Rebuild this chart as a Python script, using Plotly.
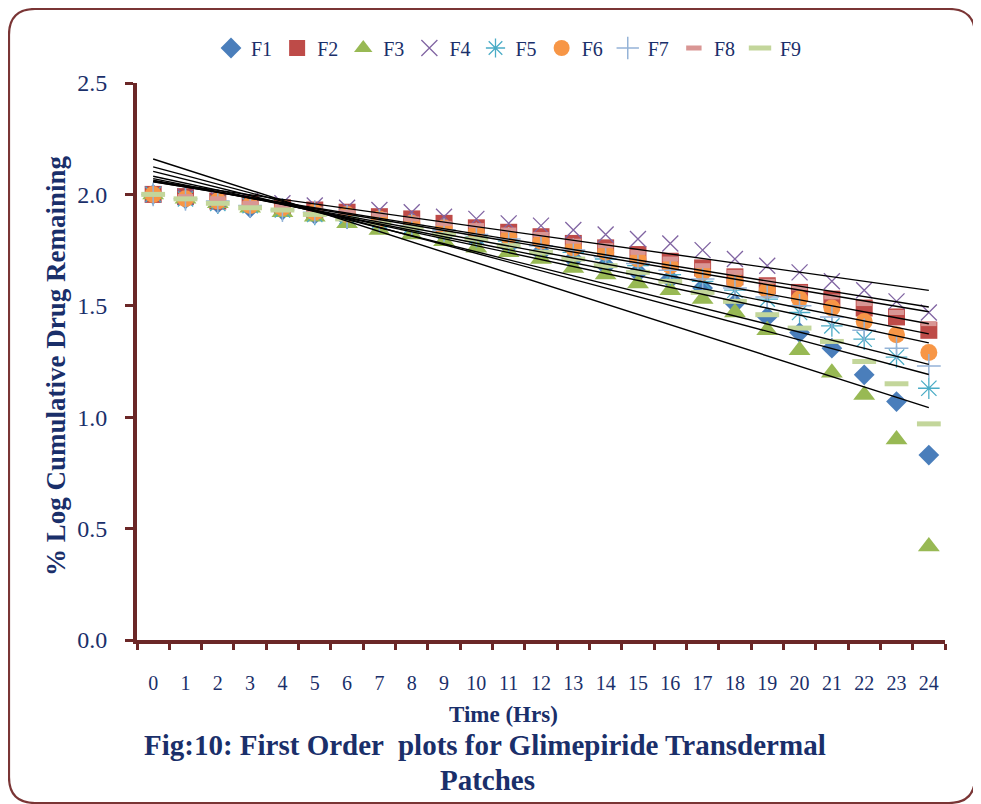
import numpy as np
import plotly.graph_objects as go

time_hrs = [str(i) for i in range(25)]

F1 = [2.00, 1.98, 1.96, 1.94, 1.93, 1.91, 1.89, 1.87, 1.85, 1.82, 1.80, 1.77, 1.74,
      1.71, 1.68, 1.65, 1.62, 1.58, 1.51, 1.45, 1.38, 1.31, 1.19, 1.07, 0.83]
F2 = [2.00, 1.99, 1.97, 1.96, 1.94, 1.93, 1.92, 1.90, 1.89, 1.87, 1.85, 1.83, 1.81,
      1.78, 1.76, 1.73, 1.70, 1.67, 1.63, 1.59, 1.56, 1.53, 1.49, 1.45, 1.39]
F3 = [2.00, 1.98, 1.96, 1.94, 1.92, 1.90, 1.87, 1.84, 1.82, 1.79, 1.76, 1.74, 1.71,
      1.67, 1.64, 1.60, 1.57, 1.53, 1.47, 1.39, 1.30, 1.20, 1.10, 0.90, 0.42]
F4 = [2.00, 1.99, 1.98, 1.97, 1.96, 1.95, 1.94, 1.93, 1.92, 1.90, 1.89, 1.87, 1.86,
      1.84, 1.82, 1.80, 1.78, 1.75, 1.71, 1.68, 1.65, 1.61, 1.57, 1.52, 1.47]
F5 = [2.00, 1.98, 1.96, 1.95, 1.93, 1.91, 1.90, 1.88, 1.86, 1.84, 1.81, 1.79, 1.77,
      1.74, 1.71, 1.68, 1.64, 1.61, 1.57, 1.53, 1.47, 1.41, 1.35, 1.27, 1.13]
F6 = [2.00, 1.98, 1.97, 1.95, 1.94, 1.92, 1.91, 1.89, 1.87, 1.85, 1.83, 1.81, 1.79,
      1.76, 1.74, 1.71, 1.68, 1.65, 1.61, 1.57, 1.53, 1.49, 1.43, 1.37, 1.29]
F7 = [2.00, 1.98, 1.97, 1.95, 1.93, 1.92, 1.90, 1.88, 1.86, 1.84, 1.82, 1.80, 1.77,
      1.75, 1.72, 1.69, 1.66, 1.62, 1.58, 1.54, 1.50, 1.45, 1.39, 1.31, 1.23]
F8 = [2.00, 1.99, 1.98, 1.96, 1.95, 1.93, 1.92, 1.91, 1.89, 1.87, 1.86, 1.84, 1.82,
      1.79, 1.77, 1.74, 1.71, 1.68, 1.65, 1.61, 1.58, 1.54, 1.51, 1.47, 1.42]
F9 = [2.00, 1.98, 1.96, 1.94, 1.93, 1.91, 1.89, 1.87, 1.85, 1.82, 1.80, 1.77, 1.74,
      1.71, 1.68, 1.65, 1.61, 1.56, 1.52, 1.46, 1.40, 1.34, 1.25, 1.15, 0.97]

y_ticks = [0.0, 0.5, 1.0, 1.5, 2.0, 2.5]
y_tick_labels = ["0.0", "0.5", "1.0", "1.5", "2.0", "2.5"]

series = [
    ("F1", F1, dict(symbol="diamond", size=16, color="#4a7ebb")),
    ("F2", F2, dict(symbol="square", size=17, color="#be4b48")),
    ("F3", F3, dict(symbol="triangle-up", size=19, color="#98b954")),
    ("F4", F4, dict(symbol="x-thin-open", size=16, color="#8064a2",
                    line=dict(color="#8064a2", width=1.3))),
    ("F5", F5, dict(symbol="asterisk-open", size=18, color="#4bacc6",
                    line=dict(color="#4bacc6", width=1.3))),
    ("F6", F6, dict(symbol="circle", size=17, color="#f79646")),
    ("F7", F7, dict(symbol="cross-thin-open", size=17, color="#95b3d7",
                    line=dict(color="#95b3d7", width=1.5))),
    ("F8", F8, dict(symbol="line-ew-open", size=11, color="#d99694",
                    line=dict(color="#d99694", width=5))),
    ("F9", F9, dict(symbol="line-ew-open", size=17, color="#c3d69b",
                    line=dict(color="#c3d69b", width=5))),
]

NAVY = "#1a2f6a"
AXIS = "#6b2727"
SERIF = "Liberation Serif, Times New Roman, serif"

fig = go.Figure()
for name, vals, mk in series:
    fig.add_trace(go.Scatter(x=time_hrs, y=vals, mode="markers", name=name,
                             marker=mk, cliponaxis=False))

xnum = np.arange(len(time_hrs))
for name, vals, mk in series:
    slope, intercept = np.polyfit(xnum, np.array(vals), 1)
    fig.add_trace(go.Scatter(x=[time_hrs[0], time_hrs[-1]],
                             y=[intercept, intercept + slope * xnum[-1]],
                             mode="lines", line=dict(color="black", width=1.4),
                             showlegend=False, hoverinfo="skip"))

# figure geometry in figure pixels (page adds an 8px body margin)
W, H = 973, 796
L, R, T, B = 129, 937, 75, 632


def px(x):
    return (x - L) / (R - L)


def py(y):
    return (B - y) / (B - T)


x0, x1, y0, y1, r = 1, 967, 1, 795, 26
path = (f"M {px(x0 + r)} {py(y0)} L {px(x1 - r)} {py(y0)} "
        f"Q {px(x1)} {py(y0)} {px(x1)} {py(y0 + r)} "
        f"L {px(x1)} {py(y1 - r)} Q {px(x1)} {py(y1)} {px(x1 - r)} {py(y1)} "
        f"L {px(x0 + r)} {py(y1)} Q {px(x0)} {py(y1)} {px(x0)} {py(y1 - r)} "
        f"L {px(x0)} {py(y0 + r)} Q {px(x0)} {py(y0)} {px(x0 + r)} {py(y0)} Z")

fig.update_layout(
    width=W, height=H,
    margin=dict(l=L, r=W - R, t=T, b=H - B),
    paper_bgcolor="white", plot_bgcolor="white",
    font=dict(family=SERIF, color=NAVY),
    showlegend=True,
    legend=dict(orientation="h", x=px(501), xanchor="center", y=py(40), yanchor="middle",
                font=dict(family=SERIF, size=20, color=NAVY),
                itemwidth=30, tracegroupgap=0, bgcolor="rgba(0,0,0,0)"),
    xaxis=dict(type="category", tickson="boundaries", ticks="outside", ticklen=6,
               tickwidth=3, tickcolor=AXIS, showline=True, linecolor=AXIS, linewidth=4,
               showgrid=False, zeroline=False, ticklabelstandoff=22, tickangle=0,
               tickfont=dict(family=SERIF, size=20, color=NAVY),
               range=[-0.5, 24.5]),
    yaxis=dict(range=[0, 2.5], tickvals=y_ticks, ticktext=y_tick_labels, ticks="outside",
               ticklen=8, tickwidth=3, tickcolor=AXIS, showline=True, linecolor=AXIS,
               linewidth=4, showgrid=False, zeroline=False, ticklabelstandoff=13,
               tickfont=dict(family=SERIF, size=24, color=NAVY)),
    shapes=[dict(type="path", xref="paper", yref="paper", path=path,
                 line=dict(color="#7a3535", width=2.2), fillcolor="rgba(0,0,0,0)",
                 layer="above")],
    annotations=[
        dict(text="<b>% Log Cumulative Drug Remaining</b>", xref="paper", yref="paper",
             x=px(48), y=py(358), textangle=-90, showarrow=False,
             xanchor="center", yanchor="middle",
             font=dict(family=SERIF, size=27, color=NAVY)),
        dict(text="<b>Time (Hrs)</b>", xref="paper", yref="paper",
             x=px(495), y=py(706), showarrow=False, xanchor="center", yanchor="middle",
             font=dict(family=SERIF, size=23, color=NAVY)),
        dict(text="<b>Fig:10: First Order  plots for Glimepiride Transdermal</b>",
             xref="paper", yref="paper", x=px(477), y=py(737), showarrow=False,
             xanchor="center", yanchor="middle",
             font=dict(family=SERIF, size=29, color=NAVY)),
        dict(text="<b>Patches</b>", xref="paper", yref="paper",
             x=px(479), y=py(772), showarrow=False, xanchor="center", yanchor="middle",
             font=dict(family=SERIF, size=29, color=NAVY)),
    ],
)

fig.write_html("out.html")
